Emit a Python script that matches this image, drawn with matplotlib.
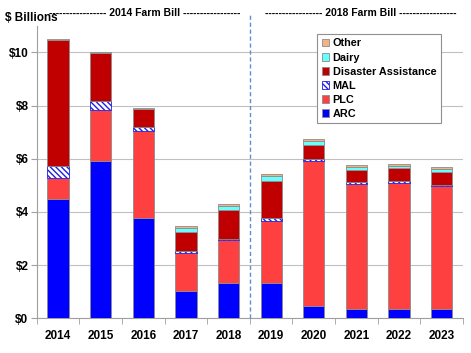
import matplotlib
matplotlib.use("Agg")
import matplotlib.pyplot as plt
import numpy as np

years = ["2014", "2015", "2016", "2017", "2018", "2019", "2020", "2021", "2022", "2023"]
arc = [4.48, 5.91, 3.78, 1.03, 1.34, 1.34, 0.46, 0.34, 0.35, 0.34]
plc = [0.78, 1.92, 3.26, 1.44, 1.60, 2.31, 5.45, 4.70, 4.74, 4.63]
mal = [0.48, 0.34, 0.14, 0.06, 0.06, 0.11, 0.08, 0.07, 0.06, 0.05]
disaster = [4.74, 1.81, 0.68, 0.70, 1.07, 1.41, 0.52, 0.47, 0.49, 0.50]
dairy = [0.00, 0.00, 0.00, 0.15, 0.17, 0.18, 0.16, 0.10, 0.10, 0.10]
other = [0.03, 0.04, 0.04, 0.09, 0.07, 0.07, 0.06, 0.08, 0.06, 0.09]

plt.rcParams['font.family'] = ['Liberation Sans', 'DejaVu Sans']
plt.rcParams['hatch.linewidth'] = 1.0

fig = plt.figure(figsize=(4.71, 3.53), dpi=100)
ax = fig.add_axes([0.078, 0.098, 0.905, 0.829])

x = np.arange(len(years))
w = 0.5
edge = '#8c8c8c'
series = [
    ("ARC", arc, dict(color='#0000ff', edgecolor=edge)),
    ("PLC", plc, dict(color='#ff4040', edgecolor=edge)),
    ("MAL", mal, dict(color='white', edgecolor='#2020e0', hatch='\\\\\\\\\\\\')),
    ("Disaster Assistance", disaster, dict(color='#c00000', edgecolor=edge)),
    ("Dairy", dairy, dict(color='#66ffff', edgecolor=edge)),
    ("Other", other, dict(color='#f4b183', edgecolor=edge)),
]
bottom = np.zeros(len(years))
handles = []
for name, vals, style in series:
    b = ax.bar(x, vals, w, bottom=bottom, label=name, linewidth=0.6, zorder=3, **style)
    handles.append(b)
    bottom = bottom + np.array(vals)

ax.set_ylim(0, 11)
ax.set_xlim(-0.5, 9.38)
ax.set_yticks([0, 2, 4, 6, 8, 10])
ax.set_yticklabels(['$0', '$2', '$4', '$6', '$8', '$10'], fontsize=8.5, fontweight='bold')
ax.set_xticks(x)
ax.set_xticklabels(years, fontsize=8.5, fontweight='bold')
ax.set_xticks(np.arange(-0.5, 9.6, 1), minor=True)
ax.tick_params(axis='x', which='major', length=0, pad=8)
ax.tick_params(axis='x', which='minor', length=4, color='#a0a0a0')
ax.tick_params(axis='y', length=4, color='#a0a0a0', pad=2)
ax.grid(axis='y', color='#c0c0c0', linewidth=0.8, zorder=0)
for s in ['top', 'right']:
    ax.spines[s].set_visible(False)
for s in ['left', 'bottom']:
    ax.spines[s].set_color('#a0a0a0')

# divider between farm bills
ax.plot([4.5, 4.5], [0, 11.45], ls=(0, (3, 2)), color='#5b8fd0', lw=1.0,
        clip_on=False, zorder=4)

fig.text(0.01, 0.948, '$ Billions', fontsize=8.5, fontweight='bold', va='center')
fig.text(0.308, 0.963, '----------------- 2014 Farm Bill -----------------',
         fontsize=7.5, fontweight='bold', ha='center', va='center')
fig.text(0.765, 0.963, '----------------- 2018 Farm Bill -----------------',
         fontsize=7.5, fontweight='bold', ha='center', va='center')

leg = ax.legend(handles[::-1], [s[0] for s in series][::-1],
                loc='upper right', bbox_to_anchor=(0.96, 0.99),
                prop={'weight': 'bold', 'size': 7.8}, handlelength=0.7,
                handleheight=0.7, handletextpad=0.3, labelspacing=0.38,
                fancybox=False, framealpha=1, edgecolor='#909090',
                borderpad=0.4)
leg.get_frame().set_linewidth(0.8)

fig.savefig('out.png', dpi=100)
